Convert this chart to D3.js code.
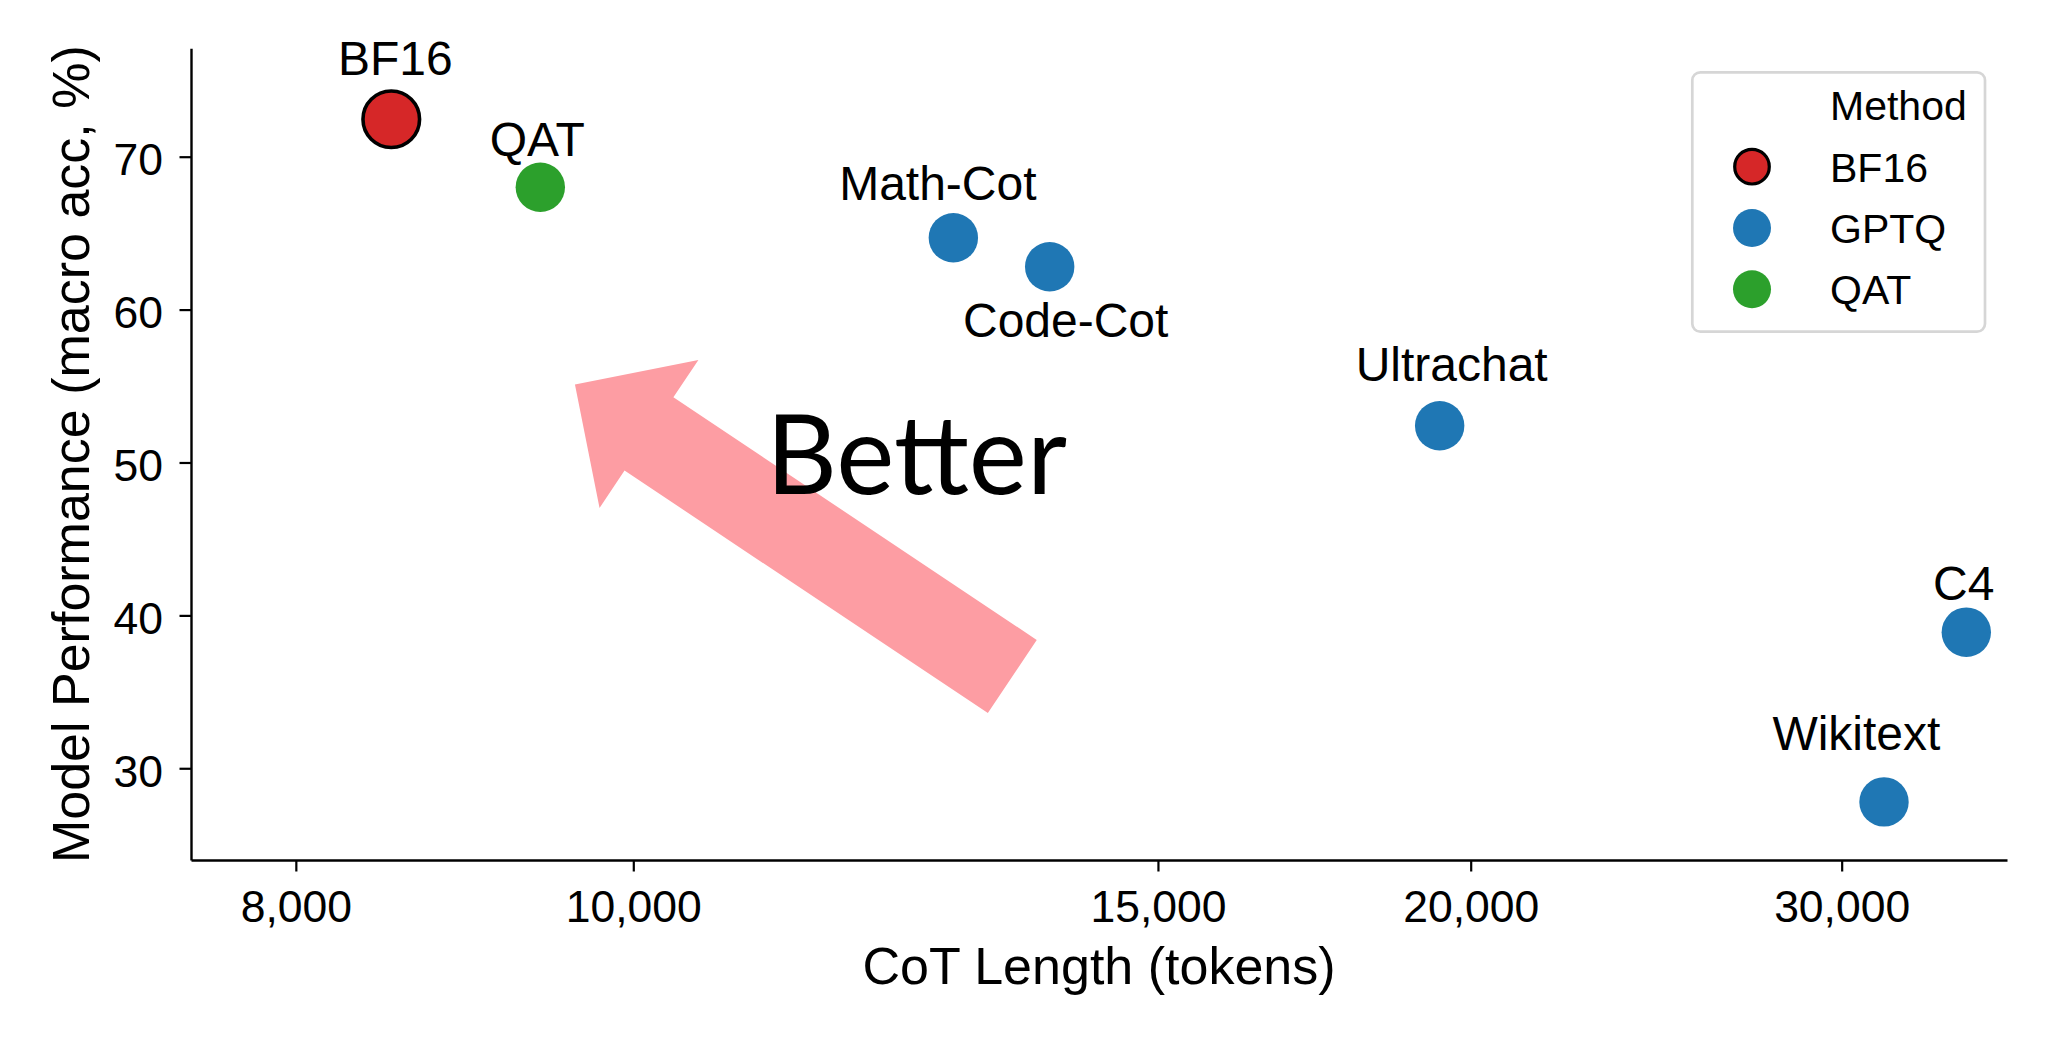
<!DOCTYPE html>
<html>
<head>
<meta charset="utf-8">
<script src="https://cdn.jsdelivr.net/npm/d3@7"></script>
<style>
  html, body { margin: 0; padding: 0; background: #ffffff; }
  svg { display: block; }
  text { font-family: "Liberation Sans", Arial, sans-serif; fill: #000; }
</style>
</head>
<body>
<svg id="chart" width="2056" height="1045"></svg>
<script>
// ---- data ----
const categories = ["BF16", "QAT", "Math-Cot", "Code-Cot", "Ultrachat", "C4", "Wikitext"];
const methods    = ["BF16", "QAT", "GPTQ", "GPTQ", "GPTQ", "GPTQ", "GPTQ"];
const cotLength  = [8500, 9380, 12680, 13700, 19400, 35100, 31600];
const accuracy   = [72.45, 68.0, 64.7, 62.8, 52.4, 38.9, 27.8];
const xTicks = [8000, 10000, 15000, 20000, 30000];
const yTicks = [30, 40, 50, 60, 70];
const legendMethods = ["BF16", "GPTQ", "QAT"];
const legendTitle = "Method";
const arrowFrom = [13290, 36.0];
const arrowTo   = [9604, 55.1];
const betterText = "Better";
const xLabel = "CoT Length (tokens)";
const yLabel = "Model Performance (macro acc, %)";

// ---- style / layout ----
const colors = { BF16: "#d62728", GPTQ: "#1f77b4", QAT: "#2ca02c" };
const labelDx = [4, -3, -15.5, 16, 12, -2.5, -27.6];
const labelDy = [-44.3, -31.7, -38.2, 69.8, -45, -32, -52];

const svg = d3.select("#chart");
const pL = 191, pR = 2007, pT = 48.3, pB = 860;

const x = d3.scalePow().exponent(-0.5).domain([7500, 37050]).range([pL, pR]);
const y = d3.scaleLinear().domain([24, 77.09]).range([pB, pT]);

// axes
const xAxis = d3.axisBottom(x).tickValues(xTicks).tickFormat(d3.format(",")).tickSizeInner(11.5).tickSizeOuter(0);
const yAxis = d3.axisLeft(y).tickValues(yTicks).tickFormat(d3.format("d")).tickSizeInner(11.5).tickSizeOuter(0);

const gx = svg.append("g").attr("transform", `translate(0,${pB})`).call(xAxis);
gx.select(".domain").attr("stroke", "#000").attr("stroke-width", 2.4);
gx.selectAll(".tick line").attr("stroke", "#000").attr("stroke-width", 2.2);
gx.selectAll(".tick text").attr("y", 61.5).attr("dy", null)
  .style("font-size", "44.5px").style("font-family", "Liberation Sans, Arial, sans-serif").attr("fill", "#000");

const gy = svg.append("g").attr("transform", `translate(${pL},0)`).call(yAxis);
gy.select(".domain").attr("stroke", "#000").attr("stroke-width", 2.4);
gy.selectAll(".tick line").attr("stroke", "#000").attr("stroke-width", 2.2);
gy.selectAll(".tick text").attr("x", -28).attr("dy", null).attr("y", 18)
  .style("font-size", "44.5px").style("font-family", "Liberation Sans, Arial, sans-serif").attr("fill", "#000");

// axis labels
svg.append("text").attr("x", (pL + pR) / 2).attr("y", 984)
  .attr("text-anchor", "middle").style("font-size", "52px").text(xLabel);
svg.append("text").attr("transform", `translate(89.3,${(pT + pB) / 2}) rotate(-90)`)
  .attr("text-anchor", "middle").style("font-size", "52px").text(yLabel);

// arrow (drawn in pixel space from data endpoints)
(function () {
  const tx = x(arrowFrom[0]), ty = y(arrowFrom[1]);
  const hx = x(arrowTo[0]), hy = y(arrowTo[1]);
  const len = Math.hypot(hx - tx, hy - ty);
  const ux = (hx - tx) / len, uy = (hy - ty) / len;
  const nx = -uy, ny = ux;
  const w = 88, hw = 178, hl = 89;
  const bx = hx - ux * hl, by = hy - uy * hl;
  const poly = [
    [tx + nx * w / 2, ty + ny * w / 2],
    [bx + nx * w / 2, by + ny * w / 2],
    [bx + nx * hw / 2, by + ny * hw / 2],
    [hx, hy],
    [bx - nx * hw / 2, by - ny * hw / 2],
    [bx - nx * w / 2, by - ny * w / 2],
    [tx - nx * w / 2, ty - ny * w / 2]
  ];
  svg.append("polygon").attr("points", poly.map(p => p.join(",")).join(" "))
    .attr("fill", "#fd9da3");
})();

svg.append("text").attr("x", 766).attr("y", 494)
  .style("font-family", "Lato, 'Noto Sans', sans-serif").style("font-size", "110px")
  .text(betterText);

// points
const pts = categories.map((c, i) => ({ c, m: methods[i], xv: cotLength[i], yv: accuracy[i], i }));
svg.append("g").selectAll("circle").data(pts).join("circle")
  .attr("cx", d => x(d.xv)).attr("cy", d => y(d.yv))
  .attr("r", d => d.m === "BF16" ? 28.3 : 24.7)
  .attr("fill", d => colors[d.m])
  .attr("stroke", d => d.m === "BF16" ? "#000" : "none")
  .attr("stroke-width", d => d.m === "BF16" ? 3.6 : 0);

svg.append("g").selectAll("text").data(pts).join("text")
  .attr("x", d => x(d.xv) + labelDx[d.i]).attr("y", d => y(d.yv) + labelDy[d.i])
  .attr("text-anchor", "middle").style("font-size", "48px").text(d => d.c);

// legend
const lg = svg.append("g");
lg.append("rect").attr("x", 1692.3).attr("y", 72.3).attr("width", 292.7).attr("height", 259.4)
  .attr("rx", 8).attr("fill", "#fff").attr("stroke", "#d6d6d6").attr("stroke-width", 2.7);
lg.append("text").attr("x", 1830).attr("y", 120).style("font-size", "41px").text(legendTitle);
const ly = d3.scalePoint().domain(legendMethods).range([166.7, 289.3]);
legendMethods.forEach(m => {
  lg.append("circle").attr("cx", 1752).attr("cy", ly(m))
    .attr("r", m === "BF16" ? 17.3 : 19)
    .attr("fill", colors[m])
    .attr("stroke", m === "BF16" ? "#000" : "none").attr("stroke-width", m === "BF16" ? 3.2 : 0);
  lg.append("text").attr("x", 1830).attr("y", ly(m) + 15).style("font-size", "41px").text(m);
});
</script>
</body>
</html>
